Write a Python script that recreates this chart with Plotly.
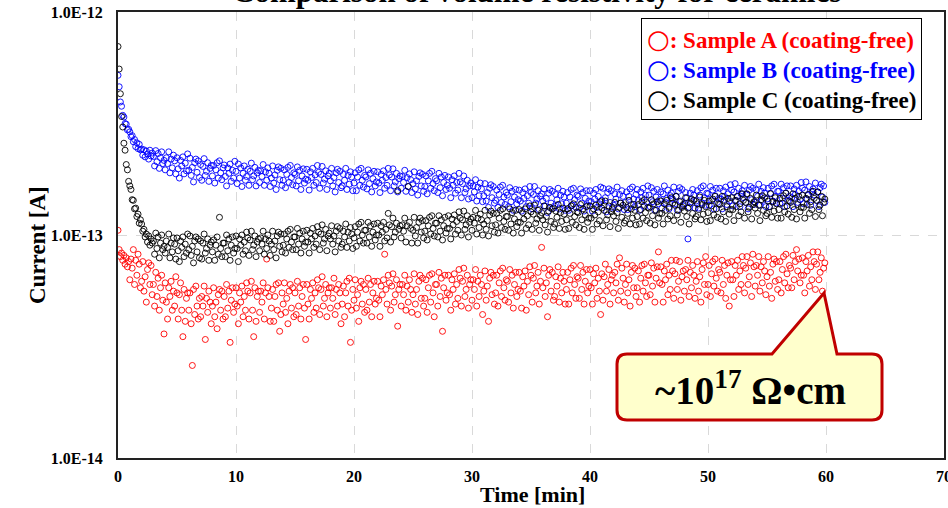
import plotly.graph_objects as go

# ---------------- canvas ----------------
W, H = 948, 508
ML, MR, MT, MB = 118, 4, 12, 50
PW, PH = W - ML - MR, H - MT - MB

# ---------------- texts / ticks ----------------
TITLE = "Comparison of volume resistivity for ceramics"
X_TITLE = "Time [min]"
Y_TITLE = "Current [A]"
X_TICKS = [0, 10, 20, 30, 40, 50, 60, 70]
Y_TICK_VALS = [1e-14, 1e-13, 1e-12]
Y_TICK_TEXT = ["1.0E-14", "1.0E-13", "1.0E-12"]
SERIES_NAMES = ["Sample A (coating-free)", "Sample B (coating-free)", "Sample C (coating-free)"]
SERIES_COLORS = ["#FF0000", "#0000FF", "#000000"]
CALLOUT_TEXT = "~10<sup>17</sup> Ω•cm"
SAMPLE_STEP_MIN = 0.1   # one reading every 6 s

# ---------------- data (current in fA = 1e-15 A), one row = 1 minute ----------------
sample_a_fA = [
    105, 86, 80, 83, 77, 81, 74, 79, 72, 76,
    63, 78, 71, 86, 60, 77, 66, 82, 74, 58,
    62, 76, 56, 65, 50, 70, 75, 60, 73, 54,
    60, 48, 68, 53, 64, 46, 58, 66, 51, 36,
    61, 50, 42, 58, 53, 62, 46, 56, 48, 65,
    55, 42, 54, 61, 46, 35, 57, 41, 52, 55,
    46, 55, 40, 26, 57, 44, 59, 48, 42, 52,
    43, 53, 48, 59, 34, 52, 45, 56, 50, 40,
    48, 58, 43, 50, 38, 54, 57, 46, 56, 42,
    53, 43, 60, 47, 56, 33, 51, 58, 45, 49,
    58, 48, 40, 55, 50, 59, 43, 53, 46, 61,
    56, 42, 55, 62, 46, 35, 58, 41, 53, 56,
    45, 56, 50, 61, 42, 55, 78, 58, 53, 41,
    47, 57, 41, 53, 60, 46, 61, 37, 44, 55,
    49, 61, 45, 52, 40, 56, 60, 47, 58, 43,
    55, 44, 62, 48, 58, 42, 53, 60, 47, 34,
    60, 49, 42, 57, 52, 61, 45, 55, 47, 63,
    58, 44, 57, 65, 48, 52, 60, 43, 55, 58,
    47, 58, 52, 64, 44, 57, 48, 60, 55, 40,
    49, 59, 43, 55, 62, 48, 64, 33, 46, 57,
    51, 63, 47, 54, 41, 58, 62, 49, 60, 45,
    57, 46, 64, 50, 60, 43, 55, 62, 49, 52,
    62, 51, 43, 59, 54, 63, 82, 57, 49, 66,
    61, 46, 59, 67, 50, 54, 63, 39, 57, 60,
    48, 60, 54, 66, 46, 59, 50, 63, 57, 45,
    54, 67, 49, 57, 44, 62, 66, 52, 64, 48,
    52, 63, 45, 58, 66, 50, 67, 55, 43, 60,
    60, 48, 68, 53, 64, 37, 58, 66, 51, 55,
    66, 54, 46, 63, 57, 67, 49, 60, 52, 70,
    64, 48, 62, 71, 53, 57, 66, 47, 60, 63,
    51, 63, 57, 70, 48, 62, 53, 66, 60, 44,
    56, 69, 51, 59, 41, 64, 68, 54, 66, 49,
    55, 66, 48, 61, 69, 53, 71, 58, 51, 63,
    62, 50, 70, 55, 66, 47, 60, 68, 53, 57,
    68, 56, 47, 65, 59, 69, 46, 62, 54, 72,
    66, 50, 64, 73, 55, 59, 68, 49, 62, 88,
    58, 71, 53, 61, 43, 66, 70, 56, 68, 51,
    53, 65, 59, 72, 50, 64, 55, 68, 62, 49,
    57, 68, 49, 63, 71, 55, 73, 60, 52, 65,
    64, 52, 73, 57, 68, 49, 62, 70, 55, 59,
    70, 58, 49, 67, 61, 71, 52, 64, 56, 44,
    67, 51, 65, 74, 56, 60, 70, 49, 63, 66,
    55, 68, 61, 74, 51, 79, 56, 71, 64, 50,
    60, 74, 55, 63, 48, 68, 73, 58, 71, 53,
    58, 69, 50, 64, 73, 56, 74, 61, 53, 66,
    66, 54, 75, 59, 71, 50, 64, 72, 84, 61,
    72, 60, 50, 69, 63, 74, 54, 66, 57, 77,
    69, 52, 67, 77, 57, 62, 76, 51, 65, 69,
    56, 70, 63, 77, 53, 68, 58, 73, 66, 52,
    62, 76, 56, 65, 50, 70, 75, 60, 80, 54,
    60, 73, 53, 67, 76, 59, 78, 64, 56, 70,
    68, 55, 77, 60, 73, 52, 66, 75, 48, 63,
    76, 63, 53, 73, 66, 77, 57, 69, 60, 80,
    73, 55, 71, 80, 60, 65, 75, 53, 82, 72,
    59, 73, 66, 80, 56, 72, 61, 76, 69, 54,
    65, 80, 59, 68, 52, 74, 78, 62, 76, 57,
    63, 76, 55, 70, 80, 61, 82, 67, 58, 73,
    71, 58, 81, 63, 76, 86, 69, 78, 61, 66,
    79, 66, 55, 76, 69, 81, 59, 72, 63, 84,
    76, 57, 74, 84, 63, 68, 79, 56, 71, 75,
]

sample_b_fA = [
    520, 462, 395, 378, 344, 338, 316, 314, 296, 298,
    290, 276, 279, 262, 268, 249, 259, 244, 255, 241,
    243, 228, 241, 224, 238, 231, 219, 240, 226, 233,
    225, 204, 239, 213, 232, 199, 222, 236, 209, 216,
    196, 222, 209, 236, 190, 219, 200, 228, 215, 188,
    222, 198, 180, 216, 204, 224, 188, 210, 194, 231,
    195, 221, 185, 201, 173, 211, 219, 191, 215, 181,
    207, 176, 203, 220, 185, 193, 211, 174, 199, 205,
    184, 205, 171, 196, 211, 180, 215, 190, 177, 200,
    206, 183, 166, 200, 189, 208, 174, 195, 180, 214,
    193, 170, 208, 180, 200, 165, 189, 204, 176, 183,
    197, 167, 193, 210, 177, 184, 201, 166, 190, 195,
    172, 194, 183, 207, 167, 192, 176, 200, 189, 165,
    180, 204, 171, 186, 160, 195, 202, 177, 199, 167,
    176, 196, 163, 187, 201, 172, 205, 181, 168, 190,
    187, 166, 202, 175, 195, 160, 184, 198, 171, 178,
    197, 176, 159, 192, 181, 199, 167, 186, 172, 205,
    191, 162, 187, 203, 171, 178, 194, 160, 184, 189,
    175, 199, 166, 181, 156, 190, 197, 172, 193, 163,
    166, 187, 176, 199, 160, 185, 169, 192, 182, 158,
    171, 190, 158, 182, 196, 167, 199, 176, 164, 185,
    182, 161, 196, 170, 189, 156, 179, 193, 166, 173,
    192, 171, 155, 187, 176, 194, 162, 181, 167, 199,
    186, 158, 182, 198, 166, 173, 189, 156, 179, 184,
    162, 183, 172, 195, 157, 181, 165, 188, 177, 155,
    170, 192, 161, 175, 151, 183, 190, 166, 187, 157,
    165, 184, 153, 175, 189, 162, 193, 170, 158, 179,
    175, 155, 189, 163, 182, 150, 172, 185, 160, 167,
    182, 162, 147, 177, 167, 184, 154, 172, 159, 189,
    173, 147, 170, 184, 155, 161, 176, 145, 166, 171,
    147, 166, 156, 177, 142, 164, 150, 171, 161, 141,
    150, 170, 142, 155, 133, 162, 168, 147, 165, 139,
    143, 159, 133, 152, 164, 140, 167, 148, 137, 155,
    151, 134, 163, 141, 157, 129, 148, 160, 138, 144,
    159, 142, 128, 155, 146, 161, 134, 150, 139, 165,
    155, 131, 152, 165, 139, 145, 158, 130, 149, 153,
    142, 161, 135, 146, 126, 154, 160, 139, 157, 132,
    135, 152, 144, 162, 131, 151, 138, 157, 148, 129,
    139, 155, 129, 148, 160, 136, 162, 144, 133, 151,
    149, 132, 161, 139, 155, 128, 146, 158, 136, 142,
    158, 141, 128, 154, 145, 160, 133, 149, 138, 164,
    143, 162, 136, 147, 127, 155, 161, 140, 158, 133,
    136, 153, 145, 164, 131, 152, 139, 158, 149, 130,
    140, 156, 130, 149, 161, 137, 164, 145, 134, 152,
    160, 143, 129, 156, 147, 162, 135, 151, 140, 166,
    151, 134, 163, 141, 157, 129, 148, 160, 138, 144,
    156, 132, 153, 166, 140, 146, 159, 131, 150, 154,
    145, 164, 138, 149, 129, 157, 163, 142, 160, 135,
    138, 155, 147, 96, 133, 154, 141, 160, 151, 132,
    142, 158, 132, 151, 163, 139, 166, 147, 136, 154,
    153, 136, 165, 143, 159, 131, 150, 162, 140, 146,
    162, 145, 131, 158, 149, 164, 137, 153, 142, 168,
    159, 135, 156, 170, 143, 149, 162, 134, 153, 158,
    147, 167, 140, 152, 131, 159, 165, 144, 162, 137,
    140, 159, 149, 169, 136, 157, 143, 163, 154, 134,
    145, 162, 134, 154, 166, 142, 169, 149, 139, 157,
    157, 138, 169, 146, 163, 134, 154, 166, 143, 149,
    166, 147, 134, 161, 152, 167, 140, 157, 144, 172,
    162, 138, 159, 173, 145, 151, 165, 136, 156, 161,
    151, 171, 143, 156, 134, 163, 169, 148, 166, 140,
]

sample_c_fA = [
    700, 555, 430, 340, 305, 258, 240, 207, 196, 174,
    166, 160, 144, 143, 131, 132, 121, 124, 113, 117,
    112, 104, 106, 98, 101, 93, 99, 90, 96, 92,
    94, 82, 102, 87, 98, 79, 92, 100, 86, 89,
    83, 94, 88, 101, 79, 92, 84, 97, 91, 78,
    97, 85, 76, 94, 88, 98, 80, 91, 83, 101,
    86, 99, 81, 89, 75, 94, 98, 84, 96, 79,
    94, 78, 92, 101, 83, 87, 96, 77, 90, 93,
    84, 95, 77, 90, 98, 82, 120, 87, 80, 92,
    92, 80, 100, 85, 96, 77, 90, 98, 83, 87,
    99, 87, 76, 96, 90, 100, 82, 93, 85, 103,
    97, 81, 95, 104, 86, 90, 99, 80, 93, 96,
    85, 97, 91, 104, 82, 96, 87, 100, 94, 81,
    91, 104, 86, 94, 79, 99, 103, 89, 101, 84,
    90, 101, 83, 96, 104, 88, 106, 93, 86, 98,
    98, 86, 107, 91, 102, 83, 96, 104, 89, 93,
    105, 93, 83, 102, 96, 107, 88, 99, 91, 109,
    103, 86, 101, 111, 92, 96, 106, 85, 99, 102,
    96, 110, 91, 99, 84, 104, 109, 94, 107, 88,
    91, 104, 98, 112, 88, 103, 94, 108, 101, 87,
    97, 109, 89, 103, 112, 94, 114, 100, 92, 105,
    105, 92, 114, 98, 110, 89, 103, 112, 95, 100,
    113, 100, 89, 110, 103, 114, 94, 106, 97, 125,
    111, 93, 109, 119, 98, 103, 113, 158, 106, 110,
    97, 111, 104, 119, 93, 110, 165, 114, 107, 92,
    105, 120, 99, 108, 92, 114, 119, 103, 116, 97,
    104, 116, 95, 110, 120, 101, 122, 107, 99, 113,
    113, 98, 122, 104, 117, 95, 110, 120, 102, 107,
    122, 107, 96, 118, 111, 123, 101, 115, 105, 127,
    119, 100, 117, 128, 106, 111, 122, 98, 114, 118,
    105, 120, 113, 129, 101, 119, 108, 124, 117, 100,
    112, 129, 106, 116, 99, 123, 128, 110, 125, 103,
    111, 125, 102, 119, 129, 108, 131, 115, 106, 121,
    121, 105, 131, 112, 126, 102, 118, 129, 109, 114,
    130, 114, 102, 126, 118, 131, 107, 122, 111, 135,
    127, 106, 124, 136, 113, 118, 129, 105, 122, 126,
    117, 135, 111, 121, 103, 128, 133, 115, 131, 108,
    112, 128, 120, 137, 107, 126, 115, 132, 124, 106,
    117, 131, 107, 125, 135, 114, 138, 121, 111, 127,
    126, 108, 137, 117, 131, 106, 123, 134, 114, 119,
    135, 119, 106, 131, 123, 136, 112, 127, 116, 141,
    132, 110, 129, 142, 117, 123, 135, 109, 127, 131,
    122, 140, 115, 126, 107, 133, 139, 120, 136, 113,
    116, 133, 125, 143, 112, 131, 119, 137, 129, 111,
    121, 137, 112, 130, 141, 119, 144, 126, 116, 133,
    132, 113, 144, 122, 138, 111, 129, 141, 119, 125,
    142, 125, 112, 138, 129, 143, 118, 133, 122, 147,
    139, 116, 136, 149, 123, 129, 141, 114, 133, 137,
    128, 147, 121, 132, 112, 139, 145, 125, 143, 118,
    121, 138, 130, 148, 117, 137, 124, 143, 134, 115,
    126, 142, 116, 135, 145, 123, 149, 131, 120, 138,
    137, 118, 149, 127, 143, 115, 134, 146, 124, 130,
    147, 130, 116, 143, 134, 149, 122, 138, 127, 153,
    143, 119, 140, 153, 127, 133, 146, 118, 137, 141,
    132, 151, 125, 136, 116, 144, 150, 129, 147, 122,
    125, 142, 134, 153, 120, 141, 128, 147, 138, 119,
    130, 146, 119, 139, 150, 127, 154, 135, 124, 142,
    140, 120, 153, 130, 146, 118, 137, 149, 127, 133,
    151, 133, 119, 146, 137, 152, 125, 141, 130, 157,
    146, 121, 143, 156, 130, 136, 149, 122, 140, 145,
]

SERIES_VALUES = [sample_a_fA, sample_b_fA, sample_c_fA]

FONT = "Liberation Serif"


def px_x(p):
    return (p - ML) / PW


def px_y(p):
    return (H - MB - p) / PH


fig = go.Figure()
for name, color, vals in zip(SERIES_NAMES, SERIES_COLORS, SERIES_VALUES):
    t = [round(i * SAMPLE_STEP_MIN, 2) for i in range(len(vals))]
    y = [v * 1e-15 for v in vals]
    fig.add_trace(go.Scatter(
        x=t, y=y, mode="markers", name=name, showlegend=False,
        marker=dict(symbol="circle-open", size=6, color=color,
                    line=dict(width=0.9, color=color)),
    ))

# ----- callout balloon (pixel geometry converted to paper coords) -----
bx0, by0, bx1, by1, r = 617, 354, 882, 420, 10
tip = (824, 293)
pl, pr = 772, 837


def P(x, y):
    return f"{px_x(x):.5f},{px_y(y):.5f}"


path = (
    f"M {P(bx0 + r, by0)} L {P(pl, by0)} L {P(*tip)} L {P(pr, by0)} "
    f"L {P(bx1 - r, by0)} Q {P(bx1, by0)} {P(bx1, by0 + r)} "
    f"L {P(bx1, by1 - r)} Q {P(bx1, by1)} {P(bx1 - r, by1)} "
    f"L {P(bx0 + r, by1)} Q {P(bx0, by1)} {P(bx0, by1 - r)} "
    f"L {P(bx0, by0 + r)} Q {P(bx0, by0)} {P(bx0 + r, by0)} Z"
)
fig.add_shape(type="path", path=path, xref="paper", yref="paper",
              fillcolor="#FFFFCC", line=dict(color="#C00000", width=3), layer="above")

annotations = [
    dict(text=f"<b>{CALLOUT_TEXT}</b>", x=px_x(750), y=px_y(388), xref="paper", yref="paper",
         xanchor="center", yanchor="middle", showarrow=False,
         font=dict(family=FONT, size=39, color="#000000")),
    dict(text=f"<b>{TITLE}</b>", x=px_x(536), y=px_y(11), xref="paper", yref="paper",
         xanchor="center", yanchor="bottom", showarrow=False,
         font=dict(family=FONT, size=31, color="#000000")),
    dict(text=f"<b>{X_TITLE}</b>", x=px_x(532), y=px_y(495), xref="paper", yref="paper",
         xanchor="center", yanchor="middle", showarrow=False,
         font=dict(family=FONT, size=22, color="#000000")),
    dict(text=f"<b>{Y_TITLE}</b>", x=px_x(37), y=px_y(245), xref="paper", yref="paper",
         xanchor="center", yanchor="middle", showarrow=False, textangle=-90,
         font=dict(family=FONT, size=23, color="#000000")),
]

legend_lines = [
    f'<span style="color:{c}"><span style="font-family:DejaVu Sans;font-size:26px">○</span>: {n}</span>'
    for n, c in zip(SERIES_NAMES, SERIES_COLORS)
]
annotations.append(dict(
    text="<b>" + "<br>".join(legend_lines) + "</b>",
    x=px_x(641), y=px_y(18), xref="paper", yref="paper",
    xanchor="left", yanchor="top", align="left", showarrow=False,
    bgcolor="#FFFFFF", bordercolor="#000000", borderwidth=1, borderpad=5,
    font=dict(family=FONT, size=23, color="#000000"),
))

fig.update_layout(
    width=W, height=H,
    margin=dict(l=ML, r=MR, t=MT, b=MB, pad=0, autoexpand=False),
    paper_bgcolor="#FFFFFF", plot_bgcolor="#FFFFFF",
    font=dict(family=FONT, color="#000000"),
    showlegend=False,
    annotations=annotations,
)
fig.update_xaxes(
    range=[0, 70], tickvals=X_TICKS, ticks="", ticklabelstandoff=3,
    ticklabeloverflow="allow", automargin=False,
    tickfont=dict(family=FONT, size=16, weight="bold", color="#000000"),
    showgrid=True, gridcolor="#D9D9D9", griddash="dash", gridwidth=1,
    showline=True, linecolor="#222222", linewidth=2, mirror=True, zeroline=False,
)
fig.update_yaxes(
    type="log", range=[-14, -12], tickvals=Y_TICK_VALS, ticktext=Y_TICK_TEXT,
    ticks="", ticklabelstandoff=10, automargin=False,
    tickfont=dict(family=FONT, size=16, weight="bold", color="#000000"),
    showgrid=True, gridcolor="#D9D9D9", griddash="dash", gridwidth=1,
    showline=True, linecolor="#222222", linewidth=2, mirror=True, zeroline=False,
)

fig.write_html(
    "out.html",
    config={"displayModeBar": False},
    post_script="document.body.style.margin='0';document.body.style.padding='0';",
)
